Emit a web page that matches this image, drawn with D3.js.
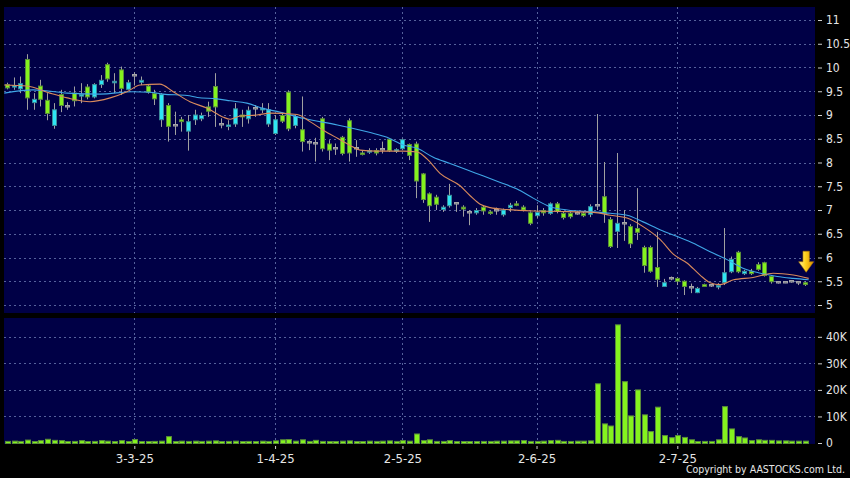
<!DOCTYPE html>
<html>
<head>
<meta charset="utf-8">
<script src="https://cdn.jsdelivr.net/npm/d3@7/dist/d3.min.js"></script>
<style>
  html, body { margin: 0; padding: 0; background: #000; }
  svg { display: block; }
  text { font-family: "DejaVu Sans Condensed", "DejaVu Sans", sans-serif; }
</style>
</head>
<body>
<svg id="chart" width="850" height="478"></svg>
<script>
// ---------------- DATA ----------------
const openP = [9.65,9.58,9.54,10.18,9.25,9.62,9.32,8.77,9.44,9.19,
  9.47,9.40,9.60,9.37,9.63,10.07,9.67,9.96,9.53,9.84,
  9.68,9.62,9.46,8.89,9.21,8.79,8.91,8.65,8.89,8.91,
  9.18,9.61,8.82,8.75,8.80,9.01,8.91,9.14,9.11,8.80,
  8.60,9.00,9.49,8.77,8.70,8.44,8.42,8.93,8.40,8.30,
  8.54,8.89,8.30,8.21,8.21,8.26,8.28,8.50,8.23,8.28,
  8.39,8.40,7.77,7.35,7.28,7.00,7.08,7.14,7.07,6.96,
  6.93,7.07,6.97,7.01,6.89,7.04,7.14,7.07,6.95,6.87,
  7.00,6.92,7.14,6.94,6.94,6.94,6.94,6.90,7.10,7.29,
  6.81,6.54,6.73,6.66,6.62,6.22,6.22,5.80,5.38,5.57,
  5.57,5.51,5.38,5.25,5.44,5.42,5.38,5.46,5.69,6.12,
  5.65,5.72,5.86,5.90,5.61,5.48,5.48,5.50,5.48,5.48];
const highP = [9.68,9.79,9.81,10.28,9.46,9.74,9.46,9.25,9.53,9.27,
  9.60,9.67,9.65,9.67,9.84,10.10,9.88,10.02,9.74,9.90,
  9.81,9.65,9.53,9.46,9.25,9.07,8.96,9.00,9.11,9.05,
  9.28,9.88,8.93,8.89,9.25,9.11,9.18,9.21,9.25,9.25,
  9.00,9.05,9.52,9.00,9.39,8.47,8.52,8.96,8.47,8.40,
  8.56,8.93,8.47,8.25,8.30,8.30,8.44,8.51,8.30,8.50,
  8.40,8.44,7.78,7.37,7.32,7.10,7.55,7.16,7.10,7.00,
  7.04,7.10,6.99,7.05,7.03,7.15,7.19,7.10,6.97,7.10,
  7.04,7.16,7.17,6.96,6.96,6.98,6.96,7.12,9.02,8.01,
  6.85,8.20,7.00,6.70,7.46,6.25,6.25,6.54,5.55,5.60,
  5.59,5.52,5.45,5.38,5.45,5.44,5.46,6.62,6.02,6.14,
  5.74,5.76,5.90,5.91,5.63,5.50,5.50,5.52,5.50,5.50];
const lowP = [9.54,9.53,9.46,9.11,9.11,9.18,8.89,8.71,9.06,9.11,
  9.18,9.25,9.33,9.35,9.57,9.70,9.46,9.42,9.53,9.62,
  9.63,9.45,9.21,8.75,8.44,8.58,8.65,8.25,8.79,8.87,
  8.96,8.75,8.72,8.68,8.75,8.75,8.82,8.96,9.04,8.75,
  8.58,8.83,8.66,8.72,8.23,8.26,8.02,8.23,8.05,8.16,
  8.15,8.02,8.12,8.15,8.18,8.15,8.19,8.22,8.20,8.26,
  8.05,7.25,7.15,6.75,7.00,6.96,7.05,6.96,6.86,6.68,
  6.90,6.90,6.90,6.90,6.86,6.96,7.08,6.97,6.68,6.83,
  6.88,6.90,6.93,6.80,6.82,6.90,6.85,6.85,7.00,6.73,
  6.20,6.20,6.35,6.20,6.37,5.68,5.68,5.38,5.38,5.52,
  5.42,5.21,5.25,5.25,5.38,5.38,5.33,5.42,5.67,5.67,
  5.63,5.63,5.72,5.60,5.45,5.45,5.46,5.47,5.42,5.40];
const closeP = [9.56,9.63,9.67,9.35,9.34,9.32,9.02,9.12,9.19,9.19,
  9.29,9.44,9.37,9.65,9.74,9.75,9.72,9.55,9.69,9.84,
  9.74,9.47,9.33,9.44,8.75,8.79,8.85,8.87,9.01,9.00,
  9.07,9.16,8.82,8.80,9.14,8.95,9.11,9.14,9.15,9.12,
  8.91,8.86,8.70,8.98,8.43,8.44,8.42,8.28,8.25,8.30,
  8.18,8.19,8.30,8.17,8.26,8.19,8.28,8.24,8.28,8.49,
  8.14,7.60,7.21,7.08,7.11,7.07,7.32,7.14,7.01,6.96,
  7.00,6.97,6.94,7.01,7.01,7.11,7.10,6.99,6.71,6.96,
  6.93,7.14,6.96,6.83,6.85,6.94,6.87,7.08,7.10,6.92,
  6.22,6.73,6.73,6.28,6.52,5.82,5.70,5.53,5.48,5.57,
  5.49,5.38,5.38,5.36,5.38,5.42,5.42,5.69,5.97,5.69,
  5.72,5.65,5.74,5.61,5.48,5.48,5.48,5.50,5.48,5.42];
const volume = [600,700,600,1100,500,900,1400,1000,900,500,
  600,900,500,600,900,700,500,900,400,1300,
  500,400,600,700,2400,500,700,600,700,600,
  700,800,500,600,700,500,600,500,700,600,
  800,1200,1300,700,1200,600,1000,600,500,500,
  700,800,500,500,700,600,700,800,600,900,
  700,3400,900,1200,600,600,900,500,400,400,
  500,600,600,700,700,800,800,900,600,600,
  700,900,1000,600,600,700,700,800,22300,7200,
  6400,44500,23100,10200,20000,10600,4300,13500,2800,2000,
  2800,2100,1200,400,600,600,1200,13700,5300,2400,
  1900,900,1200,1000,1000,800,800,700,700,700];
// moving averages: [candle index, value]
const maFast = [[-0.4,9.63],[3,9.61],[6.4,9.46],[9,9.36],[12.4,9.28],[15.4,9.36],[17.9,9.49],
  [19.9,9.63],[22.8,9.65],[24.8,9.49],[27.3,9.28],[29.9,9.14],[32.2,8.96],[33.3,8.91],
  [34.8,8.98],[37.3,9.00],[39.3,9.04],[43.3,9.01],[45.2,8.86],[47.2,8.68],[49.3,8.51],
  [51.2,8.36],[52.7,8.26],[55.2,8.24],[59.1,8.24],[61.2,8.22],[62.7,8.07],[64.6,7.77],
  [67.6,7.51],[69.1,7.30],[70.6,7.12],[72.1,7.05],[74.6,7.01],[78.5,6.98],[82.5,6.97],
  [87.5,6.95],[90,6.89],[92.5,6.83],[94.9,6.65],[97.5,6.37],[99.4,6.07],[101.5,5.88],
  [103.4,5.63],[104.9,5.47],[106.4,5.43],[108.4,5.53],[111.3,5.58],[114.3,5.67],
  [117.3,5.63],[119.6,5.56]];
const maSlow = [[-0.4,9.46],[3.9,9.53],[9,9.46],[13.9,9.44],[18.8,9.49],[21.3,9.48],
  [23.3,9.44],[26.9,9.41],[28.4,9.37],[31.3,9.34],[33.3,9.30],[35.8,9.25],[38.2,9.14],
  [40.7,9.06],[44.2,8.93],[49.3,8.79],[54.2,8.63],[56.7,8.53],[59.1,8.37],[61.2,8.30],
  [63.6,8.11],[66.1,7.98],[68.7,7.84],[71,7.72],[73.6,7.58],[76.1,7.44],[78.5,7.25],
  [81,7.07],[83.6,7.00],[87.5,6.96],[90,6.93],[92.5,6.89],[94.9,6.75],[97.5,6.58],
  [100,6.44],[102.4,6.30],[104.9,6.12],[107.5,5.95],[109.9,5.77],[112.4,5.67],
  [114.9,5.60],[117.3,5.56],[119.6,5.53]];
const dateTickIdx = [19, 40, 59, 79, 100];
const dateTickLabels = ["3-3-25", "1-4-25", "2-5-25", "2-6-25", "2-7-25"];
const priceTicks = [5,5.5,6,6.5,7,7.5,8,8.5,9,9.5,10,10.5,11];
const volTicks = [0,10000,20000,30000,40000];
const copyright = "Copyright by AASTOCKS.com Ltd.";

// ---------------- LAYOUT ----------------
const P = { left: 4, right: 815, top: 7, bottom: 313 };
const V = { top: 318, bottom: 444 };
const colors = {
  panel: "#000046", grid: "#6472aa", text: "#e6e6e6",
  up: "#2ee6f5", upStroke: "#3a8c9a", down: "#84f21e", downStroke: "#5a8c3a",
  doji: "#6c6c78", dojiStroke: "#a4a4a8", wick: "#a0a0a0", maFast: "#d98a5c", maSlow: "#3fa6e6"
};

const svg = d3.select("#chart");
const n = openP.length;
const x = d3.scaleLinear().domain([19, 100]).range([134.3, 677.3]);
const y = d3.scaleLinear().domain([5, 11]).range([305, 20]);
const yv = d3.scaleLinear().domain([0, 40000]).range([443, 336.8]);

// panels
svg.append("rect").attr("x", P.left).attr("y", P.top).attr("width", P.right - P.left)
  .attr("height", P.bottom - P.top).attr("fill", colors.panel);
svg.append("rect").attr("x", P.left).attr("y", V.top).attr("width", P.right - P.left)
  .attr("height", V.bottom - V.top).attr("fill", colors.panel);

// grid
const grid = svg.append("g").attr("stroke", colors.grid).attr("stroke-width", 1)
  .attr("stroke-dasharray", "2,3").attr("opacity", 0.85);
priceTicks.forEach(t => {
  const yy = Math.round(y(t)) + 0.5;
  grid.append("line").attr("x1", P.left).attr("x2", P.right).attr("y1", yy).attr("y2", yy);
});
volTicks.slice(1).forEach(t => {
  const yy = Math.round(yv(t)) + 0.5;
  grid.append("line").attr("x1", P.left).attr("x2", P.right).attr("y1", yy).attr("y2", yy);
});
dateTickIdx.forEach(i => {
  const xx = Math.round(x(i)) + 0.5;
  grid.append("line").attr("x1", xx).attr("x2", xx).attr("y1", P.top).attr("y2", P.bottom);
  grid.append("line").attr("x1", xx).attr("x2", xx).attr("y1", V.top).attr("y2", V.bottom);
});

// clip
svg.append("clipPath").attr("id", "clipMain").append("rect")
  .attr("x", P.left).attr("y", P.top).attr("width", P.right - P.left).attr("height", P.bottom - P.top);

const idx = d3.range(n);
const main = svg.append("g").attr("clip-path", "url(#clipMain)");

// wicks
main.append("g").selectAll("line").data(idx).join("line")
  .attr("x1", i => Math.round(x(i)) + 0.5).attr("x2", i => Math.round(x(i)) + 0.5)
  .attr("y1", i => y(highP[i])).attr("y2", i => y(lowP[i]))
  .attr("stroke", colors.wick).attr("stroke-width", 1);

// bodies
const kind = i => closeP[i] > openP[i] ? "up" : (closeP[i] < openP[i] ? "down" : "doji");
main.append("g").selectAll("rect").data(idx).join("rect")
  .attr("x", i => Math.round(x(i)) - 2 + 0.5)
  .attr("width", 4)
  .attr("y", i => {
    if (kind(i) === "doji") return Math.round(y(closeP[i])) - 1 + 0.5;
    return y(Math.max(openP[i], closeP[i])) + 0.5;
  })
  .attr("height", i => {
    if (kind(i) === "doji") return 1.5;
    return Math.max(1.5, Math.abs(y(openP[i]) - y(closeP[i])) - 1);
  })
  .attr("fill", i => kind(i) === "up" ? colors.up : kind(i) === "down" ? colors.down : colors.doji)
  .attr("stroke", i => kind(i) === "up" ? colors.upStroke : kind(i) === "down" ? colors.downStroke : colors.dojiStroke)
  .attr("stroke-width", 1);

// moving averages
const line = d3.line().x(d => x(d[0])).y(d => y(d[1])).curve(d3.curveMonotoneX);
main.append("path").datum(maSlow).attr("d", line).attr("fill", "none")
  .attr("stroke", colors.maSlow).attr("stroke-width", 1.1);
main.append("path").datum(maFast).attr("d", line).attr("fill", "none")
  .attr("stroke", colors.maFast).attr("stroke-width", 1.1);

// latest-price arrow
const defs = svg.append("defs");
const grad = defs.append("linearGradient").attr("id", "arrowGrad").attr("x1", "0").attr("x2", "1");
grad.append("stop").attr("offset", "0").attr("stop-color", "#fff6a0");
grad.append("stop").attr("offset", "0.45").attr("stop-color", "#ffd21e");
grad.append("stop").attr("offset", "1").attr("stop-color", "#d98c00");
const ax = x(n - 1) + 1.5, ay = y(highP[n - 1]) - 9;
svg.append("path")
  .attr("d", `M${ax - 3.2},${ay - 21} L${ax + 3.2},${ay - 21} L${ax + 3.2},${ay - 10.5} L${ax + 7.5},${ay - 10.5} L${ax},${ay} L${ax - 7.5},${ay - 10.5} L${ax - 3.2},${ay - 10.5} Z`)
  .attr("fill", "url(#arrowGrad)").attr("stroke", "#b07800").attr("stroke-width", 0.6);

// volume bars
svg.append("g").selectAll("rect").data(idx).join("rect")
  .attr("x", i => Math.round(x(i)) - 2 + 0.5)
  .attr("width", 5)
  .attr("y", i => Math.min(yv(volume[i]), V.bottom - 2.5))
  .attr("height", i => Math.max(2, V.bottom - 0.5 - Math.min(yv(volume[i]), V.bottom - 2.5)))
  .attr("fill", colors.down).attr("stroke", colors.downStroke).attr("stroke-width", 1);

// axes
const fmtP = d => (Number.isInteger(d) ? d3.format("d")(d) : d3.format(".1f")(d));
const yAxis = svg.append("g").attr("transform", `translate(${P.right + 3},0)`)
  .call(d3.axisRight(y).tickValues(priceTicks).tickFormat(fmtP).tickSize(4).tickPadding(4));
const vAxis = svg.append("g").attr("transform", `translate(${P.right + 3},0)`)
  .call(d3.axisRight(yv).tickValues(volTicks).tickFormat(d => d === 0 ? "0" : (d / 1000) + "K").tickSize(4).tickPadding(4));
const xAxis = svg.append("g").attr("transform", `translate(0,${V.bottom + 2})`)
  .call(d3.axisBottom(x).tickValues(dateTickIdx).tickFormat((d, k) => dateTickLabels[k]).tickSize(3).tickPadding(5));
[yAxis, vAxis, xAxis].forEach(g => {
  g.select(".domain").remove();
  g.selectAll(".tick line").attr("stroke", "#cfcfcf");
  g.selectAll(".tick text").attr("fill", colors.text).style("font-size", "12px")
    .style("font-family", "'DejaVu Sans Condensed', 'DejaVu Sans', sans-serif");
});
xAxis.selectAll(".tick text").style("font-size", "13px");

svg.append("text").attr("x", 845).attr("y", 473).attr("text-anchor", "end")
  .attr("fill", colors.text).style("font-size", "10.5px").text(copyright);
</script>
</body>
</html>
